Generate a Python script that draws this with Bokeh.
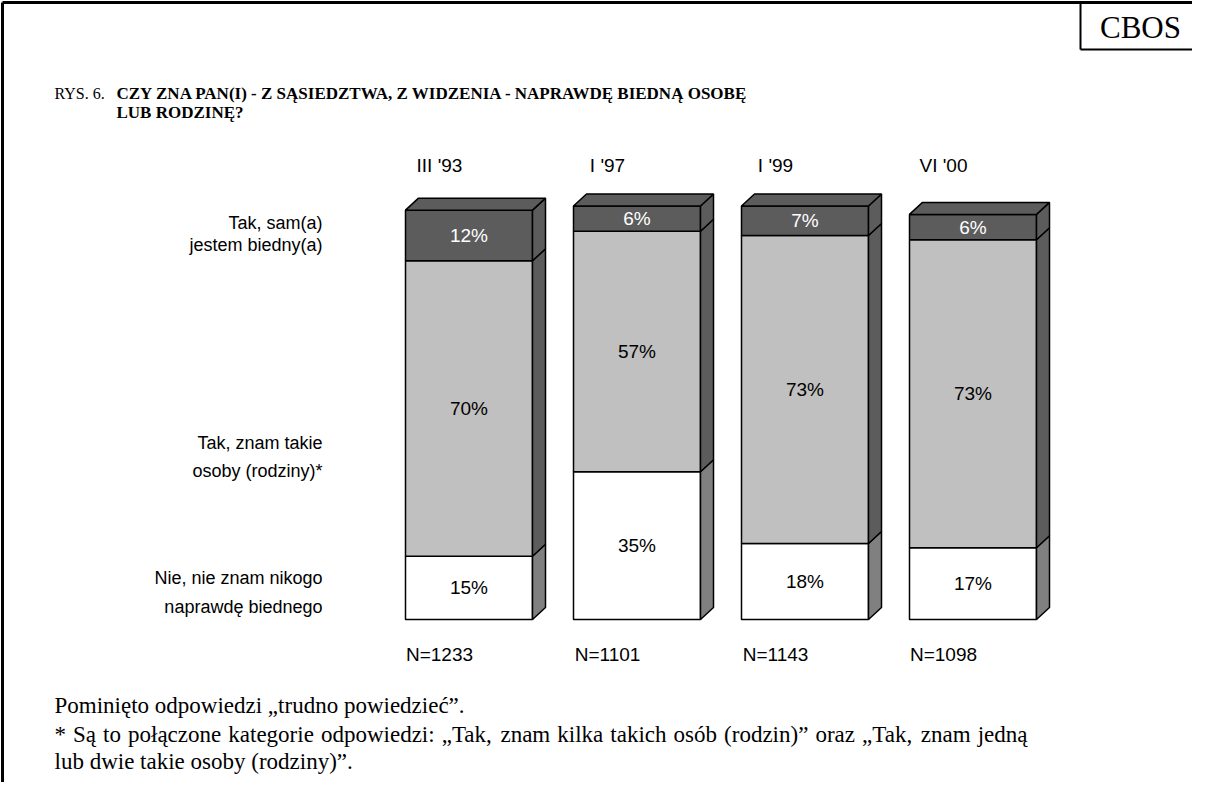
from bokeh.plotting import figure
from bokeh.models import Range1d
from bokeh.core.properties import value
from bokeh.embed import file_html
from bokeh.resources import INLINE

# ---- data ----
periods = ["III '93", "I '97", "I '99", "VI '00"]
sample_n = ["N=1233", "N=1101", "N=1143", "N=1098"]
categories = ["Nie, nie znam nikogo\nnaprawdę biednego",
              "Tak, znam takie\nosoby (rodziny)*",
              "Tak, sam(a)\njestem biedny(a)"]
nie = [15, 35, 18, 17]
znam = [70, 57, 73, 73]
sam = [12, 6, 7, 6]
series = [nie, znam, sam]

title_l1 = "CZY ZNA PAN(I) - Z SĄSIEDZTWA, Z WIDZENIA - NAPRAWDĘ BIEDNĄ OSOBĘ"
title_l2 = "LUB RODZINĘ?"
note1 = "Pominięto odpowiedzi „trudno powiedzieć”."
note2 = "* Są to połączone kategorie odpowiedzi: „Tak, znam kilka takich osób (rodzin)” oraz „Tak, znam jedną"
note3 = "lub dwie takie osoby (rodziny)”."

# ---- layout ----
W, H = 1192, 782
base_px = 619          # baseline of bars (pixels from top of figure)
px_per_pct = 4.22
bar_left0 = 405
bar_step = 168
bar_w = 127
dx = 13                # depth in px
dy = 12 / px_per_pct   # depth in pct units

front_colors = ["#ffffff", "#c0c0c0", "#5c5c5c"]
side_colors = ["#808080", "#5c5c5c", "#5c5c5c"]
text_colors = ["#000000", "#000000", "#ffffff"]

p = figure(width=W, height=H, output_backend="svg", toolbar_location=None,
           x_range=Range1d(0, W), y_range=Range1d(H, 0),
           x_axis_type=None, y_axis_type=None, min_border=0,
           outline_line_color=None, background_fill_color="white")
p.extra_y_ranges = {"pct": Range1d(-(H - base_px) / px_per_pct, base_px / px_per_pct)}
p.grid.visible = False

SANS = value("Liberation Sans")
SERIF = value("Liberation Serif")

# page frame
p.line([2, 2], [2, H + 5], line_color="black", line_width=3)
p.line([2, W + 5], [2, 2], line_color="black", line_width=3)
p.line([1080, 1080], [2, 49], line_color="black", line_width=2)
p.line([1080, W + 5], [49, 49], line_color="black", line_width=2)
p.text([1140], [27], text=["CBOS"], text_font=SERIF, text_font_size="31px",
       text_align="center", text_baseline="middle", text_color="black")

# title
p.text([54], [93], text=["RYS. 6."], text_font=SERIF, text_font_size="16px",
       text_baseline="middle", text_color="black")
p.text([116, 116], [93, 112], text=[title_l1, title_l2], text_font=SERIF,
       text_font_size="17px", text_font_style="bold", text_baseline="middle",
       text_color="black")

# bars
for i in range(len(periods)):
    left = bar_left0 + bar_step * i
    right = left + bar_w
    bottom = 0.0
    for k, vals in enumerate(series):
        top = bottom + vals[i]
        p.quad(left=[left], right=[right], bottom=[bottom], top=[top],
               fill_color=front_colors[k], line_color="black", line_width=1.5,
               y_range_name="pct")
        p.patch([right, right + dx, right + dx, right],
                [bottom, bottom + dy, top + dy, top],
                fill_color=side_colors[k], line_color="black", line_width=1.5,
                y_range_name="pct")
        p.text([(left + right) / 2], [(bottom + top) / 2], text=[f"{vals[i]}%"],
               text_font=SANS, text_font_size="19px", text_align="center",
               text_baseline="middle", text_color=text_colors[k],
               y_range_name="pct")
        bottom = top
    # top face
    p.patch([left, left + dx, right + dx, right],
            [bottom, bottom + dy, bottom + dy, bottom],
            fill_color=front_colors[-1], line_color="black", line_width=1.5,
            y_range_name="pct")
    # period label and N
    p.text([left + 34], [165], text=[periods[i]], text_font=SANS,
           text_font_size="19px", text_align="center", text_baseline="middle",
           text_color="black")
    p.text([left + 34], [654], text=[sample_n[i]], text_font=SANS,
           text_font_size="19px", text_align="center", text_baseline="middle",
           text_color="black")

# row labels
row_y = [[577, 606], [442, 470], [222, 244]]
for k, lab in enumerate(categories):
    lines = lab.split("\n")
    p.text([322, 322], row_y[k], text=lines, text_font=SANS, text_font_size="18px",
           text_align="right", text_baseline="middle", text_color="black")

# notes (justified middle line, like the source document)
note_fs = 23
note_x0, note_x1 = 54, 1027
TIMES_W = {" ": 250, "*": 500, "S": 556, "T": 611, ":": 278, ",": 250, "(": 333,
           ")": 333, "„": 444, "”": 444, "a": 444, "ą": 444, "b": 500, "c": 444,
           "d": 500, "e": 444, "ę": 444, "g": 500, "h": 500, "i": 278, "j": 278,
           "k": 500, "l": 278, "ł": 278, "m": 778, "n": 500, "o": 500, "ó": 500,
           "p": 500, "r": 333, "s": 389, "t": 278, "w": 722, "y": 500, "z": 444}


def word_w(w):
    return sum(TIMES_W.get(ch, 500) for ch in w) / 1000 * note_fs


words = note2.split(" ")
gap = (note_x1 - note_x0 - sum(word_w(w) for w in words)) / (len(words) - 1)
xs, cur = [], note_x0
for w in words:
    xs.append(cur)
    cur += word_w(w) + gap

p.text([note_x0, note_x0], [705, 761], text=[note1, note3], text_font=SERIF,
       text_font_size=f"{note_fs}px", text_baseline="middle", text_color="black")
p.text(xs, [734] * len(words), text=words, text_font=SERIF,
       text_font_size=f"{note_fs}px", text_baseline="middle", text_color="black")

open("out.html", "w").write(file_html(p, INLINE))
